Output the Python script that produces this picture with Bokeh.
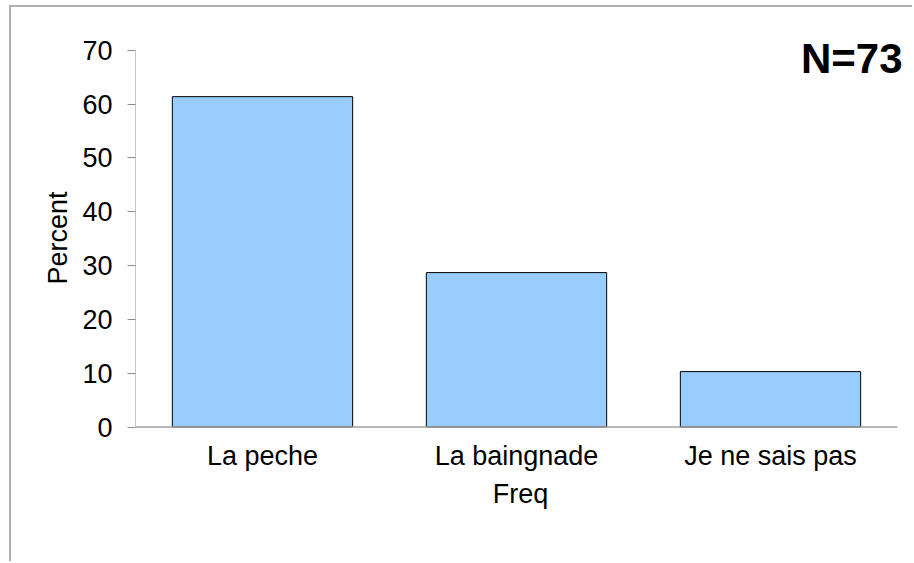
from bokeh.plotting import figure
from bokeh.models import ColumnDataSource, Range1d, Label, FixedTicker
from bokeh.embed import file_html
from bokeh.resources import INLINE

categories = ["La peche", "La baingnade", "Je ne sais pas"]
percent = [61.4, 28.7, 10.3]
y_ticks = [0, 10, 20, 30, 40, 50, 60, 70]
n_label = "N=73"

FONT = "Liberation Sans"
FS = "27px"

pos = [i + 0.5 for i in range(len(categories))]
src = ColumnDataSource(dict(x=pos, cat=categories, pct=percent))

ncat = len(categories)
ymax = y_ticks[-1]

p = figure(
    x_range=Range1d(0, ncat * 770 / 762),
    y_range=Range1d(-2.32, 72.58),
    frame_width=770, frame_height=403,
    min_border_left=124, min_border_right=7,
    min_border_top=29, min_border_bottom=122,
    output_backend="svg", toolbar_location=None,
    background_fill_color="white", border_fill_color="white",
)
p.styles = {"margin-left": "9px", "margin-top": "5px",
            "border-left": "2px solid #b0b0b0", "border-top": "2px solid #b0b0b0"}
p.outline_line_color = None
p.grid.visible = False

p.vbar(x="x", top="pct", width=0.71, source=src,
       fill_color="#99CCFF", line_color="black", line_width=1)

# axis lines drawn over the data extent
p.segment(x0=[0], y0=[0], x1=[0], y1=[ymax], line_color="#8c8c8c", line_width=1)
p.segment(x0=[0], y0=[0], x1=[ncat], y1=[0], line_color="#a0a0a0", line_width=1.5)

# y axis
ya = p.yaxis[0]
ya.ticker = FixedTicker(ticks=y_ticks)
ya.axis_line_color = None
ya.minor_tick_line_color = None
ya.major_tick_line_color = "#8c8c8c"
ya.major_tick_out = 8
ya.major_tick_in = 0
ya.major_label_standoff = 15
ya.major_label_text_font = FONT
ya.major_label_text_font_size = FS
ya.major_label_text_color = "black"
ya.axis_label = "Percent"
ya.axis_label_text_font = FONT
ya.axis_label_text_font_size = FS
ya.axis_label_text_font_style = "normal"
ya.axis_label_text_color = "black"
ya.axis_label_standoff = 6

# x axis
xa = p.xaxis[0]
xa.ticker = FixedTicker(ticks=pos)
xa.major_label_overrides = {x: c for x, c in zip(pos, categories)}
xa.axis_line_color = None
xa.major_tick_line_color = None
xa.minor_tick_line_color = None
xa.major_label_standoff = -5
xa.major_label_text_font = FONT
xa.major_label_text_font_size = FS
xa.major_label_text_color = "black"
xa.axis_label = "Freq"
xa.axis_label_text_font = FONT
xa.axis_label_text_font_size = FS
xa.axis_label_text_font_style = "normal"
xa.axis_label_text_color = "black"
xa.axis_label_standoff = 5

p.add_layout(Label(x=3.02, y=68.45, text=n_label, text_align="right",
                   text_baseline="middle", text_font=FONT,
                   text_font_size="42px", text_font_style="bold",
                   text_color="black"))

open("out.html", "w").write(file_html(p, INLINE))
